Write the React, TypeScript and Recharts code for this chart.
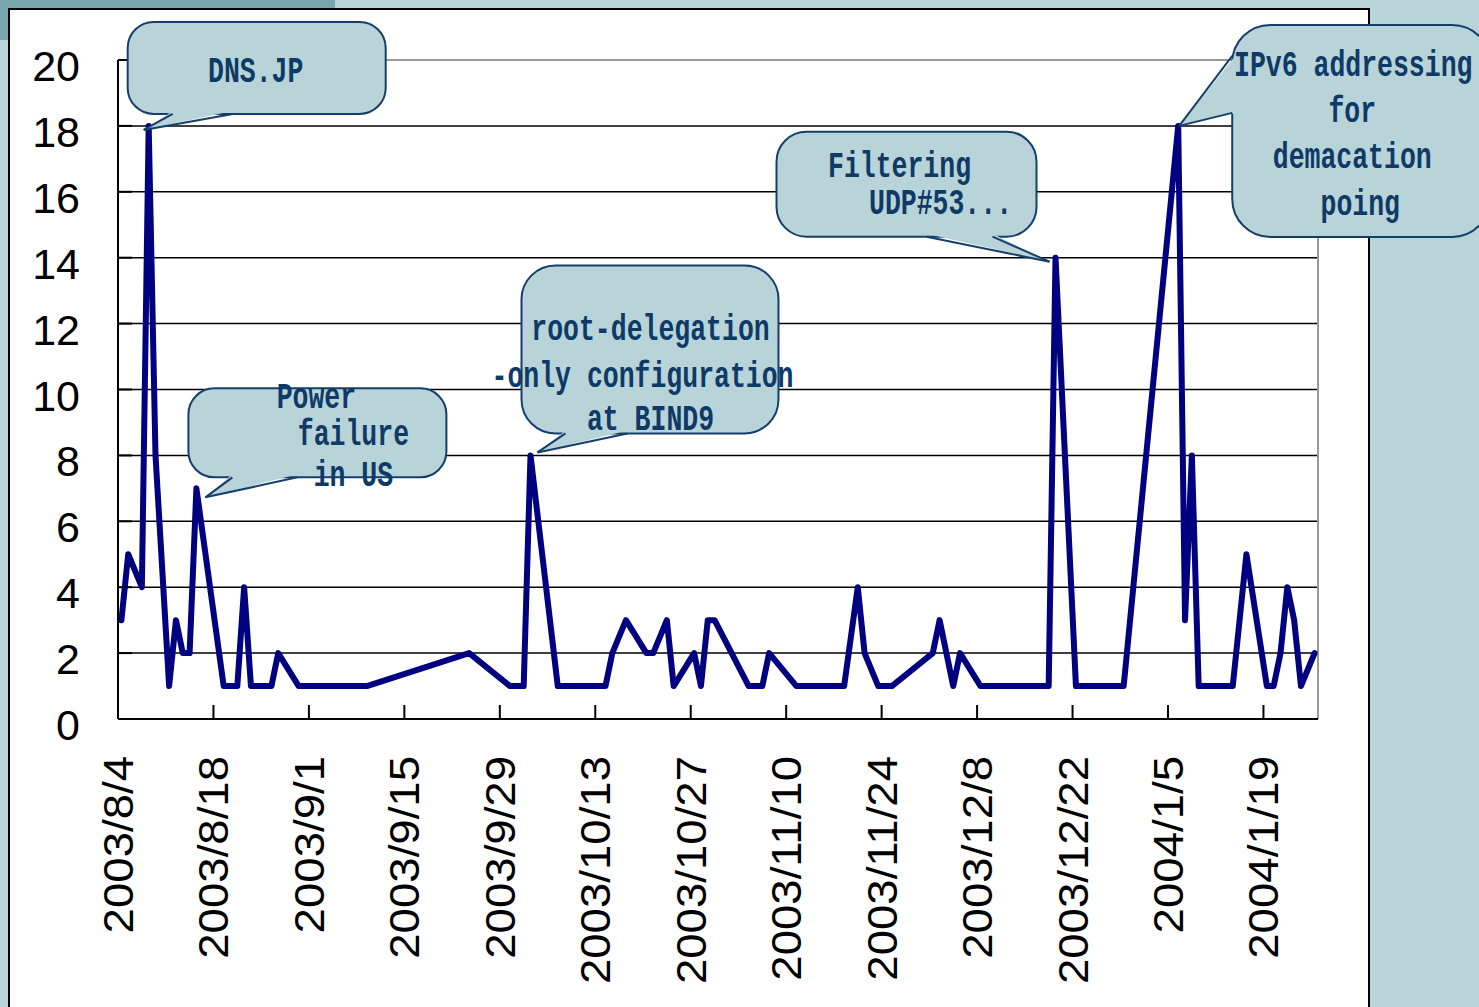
import React from "react";
import { LineChart, Line, XAxis, YAxis, CartesianGrid, ReferenceLine, ReferenceDot } from "recharts";

// ---- data ----
const dates = [
  "2003/8/4", "2003/8/5", "2003/8/7", "2003/8/8", "2003/8/9", "2003/8/11", "2003/8/12", "2003/8/13",
  "2003/8/14", "2003/8/15", "2003/8/19", "2003/8/21", "2003/8/22", "2003/8/23", "2003/8/26", "2003/8/27",
  "2003/8/30", "2003/9/3", "2003/9/9", "2003/9/24", "2003/9/30", "2003/10/2", "2003/10/3", "2003/10/7",
  "2003/10/14", "2003/10/15", "2003/10/17", "2003/10/20", "2003/10/21", "2003/10/23", "2003/10/24", "2003/10/27",
  "2003/10/28", "2003/10/29", "2003/10/30", "2003/11/4", "2003/11/6", "2003/11/7", "2003/11/11", "2003/11/18",
  "2003/11/20", "2003/11/21", "2003/11/23", "2003/11/25", "2003/12/1", "2003/12/2", "2003/12/4", "2003/12/5",
  "2003/12/8", "2003/12/18", "2003/12/19", "2003/12/22", "2003/12/29", "2004/1/6", "2004/1/7", "2004/1/8",
  "2004/1/9", "2004/1/14", "2004/1/16", "2004/1/19", "2004/1/20", "2004/1/21", "2004/1/22", "2004/1/23",
  "2004/1/24", "2004/1/26",
];
const counts = [
  3, 5, 4, 18, 8, 1, 3, 2,
  2, 7, 1, 1, 4, 1, 1, 2,
  1, 1, 1, 2, 1, 1, 8, 1,
  1, 2, 3, 2, 2, 3, 1, 2,
  1, 3, 3, 1, 1, 2, 1, 1,
  4, 2, 1, 1, 2, 3, 1, 2,
  1, 1, 14, 1, 1, 18, 3, 8,
  1, 1, 5, 1, 1, 2, 4, 3,
  1, 2,
];
const xTickLabels = [
  "2003/8/4", "2003/8/18", "2003/9/1", "2003/9/15", "2003/9/29", "2003/10/13", "2003/10/27",
  "2003/11/10", "2003/11/24", "2003/12/8", "2003/12/22", "2004/1/5", "2004/1/19",
];
const axisEndDate = "2004/1/27";
const yTicks = [0, 2, 4, 6, 8, 10, 12, 14, 16, 18, 20];

const annotationDates = ["2003/8/8", "2003/8/15", "2003/10/3", "2003/12/19", "2004/1/6"];
const annotationLines = [
  ["DNS.JP"],
  ["Power", "failure", "in US"],
  ["root-delegation", "-only configuration", "at BIND9"],
  ["Filtering", "UDP#53..."],
  ["IPv6 addressing", "for", "demacation", "poing"],
];

// ---- helpers ----
const toUTC = (s: string) => {
  const [y, m, d] = s.split("/").map(Number);
  return Date.UTC(y, m - 1, d);
};
const t0 = toUTC(dates[0]);
const dayOf = (s: string) => (toUTC(s) - t0) / 86400000;

const chartData = dates.map((d, i) => ({ day: dayOf(d), v: counts[i] }));
const xTickPositions = xTickLabels.map((l) => dayOf(l) - 0.5);
const xDomain = [-0.5, dayOf(axisEndDate) - 0.5];

// ---- bubble layout (relative to the annotated point) ----
type Bubble = {
  rect: [number, number, number, number];
  r: number;
  tail: [number, number][];
  inset: [number, number];
  text: [number, number][];
};
const bubbleLayout: Bubble[] = [
  { rect: [-21, -104, 237, -12], r: 26, tail: [[24, -12], [-5, 4], [84, -12]], inset: [0, -3], text: [[107, -54]] },
  { rect: [-8, -100, 250, -11], r: 26, tail: [[36, -11], [9, 9], [101, -11]], inset: [0, -3], text: [[120, -90], [157, -53], [157, -12]] },
  { rect: [-9, -190, 248, -22], r: 34, tail: [[35, -22], [7, -3], [97, -22]], inset: [0, -3], text: [[120, -125], [112, -78], [120, -35]] },
  { rect: [-279, -126, -19, -21], r: 30, tail: [[-129, -21], [-6, 4], [-63, -21]], inset: [0, -3], text: [[-156, -90], [-115, -53]] },
  { rect: [54, -101, 312, 111], r: 38, tail: [[54, -70], [1, 0], [54, -13]], inset: [3, 0], text: [[175, -60], [174, -14], [174, 32], [182, 79]] },
];

const BUBBLE_FILL = "#b9d4d8";
const BUBBLE_STROKE = "#143f6c";
const BUBBLE_TEXT = "#0d3a66";

const makeBubble = (idx: number) => (props: any) => {
  const { cx, cy } = props;
  if (cx == null || cy == null) return <g />;
  const b = bubbleLayout[idx];
  const [x1, y1, x2, y2] = b.rect;
  const [b1, tip, b2] = b.tail;
  const [ix, iy] = b.inset;
  const poly = [
    [cx + b1[0] + ix, cy + b1[1] + iy],
    [cx + tip[0], cy + tip[1]],
    [cx + b2[0] + ix, cy + b2[1] + iy],
  ]
    .map((p) => p.join(","))
    .join(" ");
  return (
    <g>
      <rect
        x={cx + x1}
        y={cy + y1}
        width={x2 - x1}
        height={y2 - y1}
        rx={b.r}
        ry={b.r}
        fill={BUBBLE_FILL}
        stroke={BUBBLE_STROKE}
        strokeWidth={2}
      />
      <polygon points={poly} fill={BUBBLE_FILL} stroke="none" />
      <line x1={cx + b1[0]} y1={cy + b1[1]} x2={cx + tip[0]} y2={cy + tip[1]} stroke={BUBBLE_STROKE} strokeWidth={2} />
      <line x1={cx + b2[0]} y1={cy + b2[1]} x2={cx + tip[0]} y2={cy + tip[1]} stroke={BUBBLE_STROKE} strokeWidth={2} />
      {annotationLines[idx].map((line, i) => (
        <text
          key={i}
          transform={`translate(${cx + b.text[i][0]},${cy + b.text[i][1]}) scale(1,1.4)`}
          textAnchor="middle"
          dominantBaseline="central"
          fontFamily="'Liberation Mono', 'DejaVu Sans Mono', monospace"
          fontWeight="bold"
          fontSize={26.5}
          fill={BUBBLE_TEXT}
        >
          {line}
        </text>
      ))}
    </g>
  );
};

const XTick = (props: any) => {
  const { x, y, index } = props;
  const label = xTickLabels[index] ?? "";
  return (
    <text
      transform={`translate(${x},${y}) rotate(-90) scale(1.06,1)`}
      x={0}
      y={0}
      textAnchor="end"
      dominantBaseline="central"
      fontFamily="'Liberation Sans', Arial, sans-serif"
      fontSize={43}
      fill="#000"
    >
      {label}
    </text>
  );
};

const YTick = (props: any) => {
  const { x, y, payload } = props;
  return (
    <text
      x={x}
      y={y + 6}
      textAnchor="end"
      dominantBaseline="central"
      fontFamily="'Liberation Sans', Arial, sans-serif"
      fontSize={43}
      fill="#000"
    >
      {payload.value}
    </text>
  );
};

export default function App() {
  return (
    <div
      style={{
        position: "absolute",
        left: 0,
        top: 0,
        width: 1479,
        height: 1007,
        overflow: "hidden",
        background: "#b9d4d8",
      }}
    >
      <div style={{ position: "absolute", left: 0, top: 0, width: 335, height: 40, background: "#7aa7ad" }} />
      <div
        style={{
          position: "absolute",
          left: 8,
          top: 8,
          width: 1362,
          height: 1020,
          boxSizing: "border-box",
          border: "2px solid #000",
          background: "#fff",
        }}
      />
      <div style={{ position: "absolute", left: 0, top: 0 }}>
        <LineChart
          width={1479}
          height={1007}
          data={chartData}
          margin={{ top: 60, right: 161, left: 0, bottom: 0 }}
        >
          <CartesianGrid
            vertical={false}
            horizontalValues={yTicks.filter((t) => t > 0 && t < 20)}
            stroke="#000"
            strokeWidth={1.5}
          />
          <ReferenceLine y={20} stroke="#999" strokeWidth={2} ifOverflow="extendDomain" />
          <ReferenceLine x={xDomain[1]} stroke="#999" strokeWidth={2} />
          <XAxis
            type="number"
            dataKey="day"
            domain={xDomain}
            ticks={xTickPositions}
            interval={0}
            allowDataOverflow
            height={288}
            tickSize={-14}
            tickMargin={51}
            axisLine={{ stroke: "#000", strokeWidth: 2 }}
            tickLine={{ stroke: "#000", strokeWidth: 2 }}
            tick={<XTick />}
          />
          <YAxis
            type="number"
            domain={[0, 20]}
            ticks={yTicks}
            interval={0}
            width={118}
            tickSize={-14}
            tickMargin={52}
            axisLine={{ stroke: "#000", strokeWidth: 2 }}
            tickLine={{ stroke: "#000", strokeWidth: 2 }}
            tick={<YTick />}
          />
          <Line
            type="linear"
            dataKey="v"
            stroke="#000080"
            strokeWidth={6}
            strokeLinejoin="round"
            strokeLinecap="round"
            dot={false}
            activeDot={false}
            isAnimationActive={false}
          />
          {annotationDates.map((d, i) => (
            <ReferenceDot
              key={d}
              x={dayOf(d)}
              y={counts[dates.indexOf(d)]}
              r={3}
              shape={makeBubble(i)}
            />
          ))}
        </LineChart>
      </div>
    </div>
  );
}
